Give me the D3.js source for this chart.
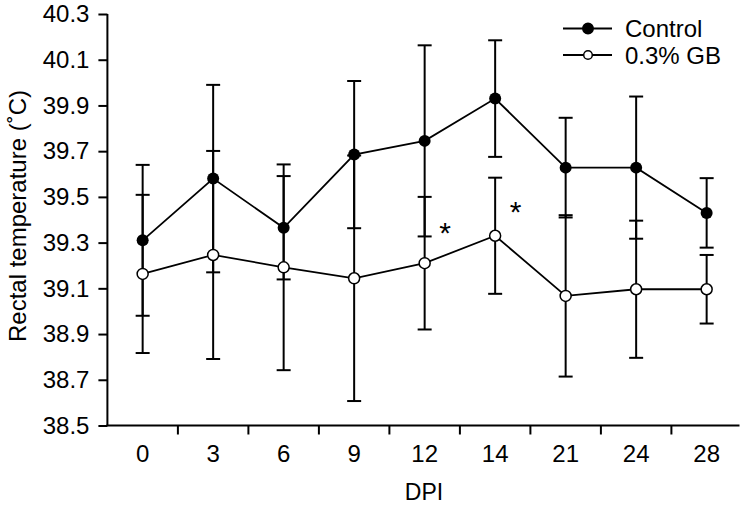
<!DOCTYPE html>
<html>
<head>
<meta charset="utf-8">
<script src="https://cdn.jsdelivr.net/npm/d3@7"></script>
<style>
  html, body { margin: 0; padding: 0; background: #fff; }
  svg { display: block; }
  text { font-family: "Liberation Sans", Arial, sans-serif; fill: #000; }
</style>
</head>
<body>
<svg id="chart" width="745" height="510"></svg>
<script>
const categories = ["0", "3", "6", "9", "12", "14", "21", "24", "28"];
const controlMean = [39.31, 39.58, 39.365, 39.685, 39.745, 39.93, 39.628, 39.628, 39.43];
const controlErr  = [0.33, 0.41, 0.226, 0.322, 0.418, 0.255, 0.218, 0.311, 0.152];
const gbMean = [39.163, 39.246, 39.192, 39.144, 39.21, 39.33, 39.067, 39.096, 39.096];
const gbErr  = [0.346, 0.455, 0.45, 0.537, 0.29, 0.254, 0.353, 0.3, 0.15];
const yTicks = [38.5, 38.7, 38.9, 39.1, 39.3, 39.5, 39.7, 39.9, 40.1, 40.3];
const seriesNames = ["Control", "0.3% GB"];
const asterisks = [{cat: "12", value: 39.373}, {cat: "14", value: 39.465}];

(function () {
const svg = d3.select("#chart");
const pLeft = 107.4, pRight = 741.9, pTop = 14, pBottom = 425.5;
const fs = "24px";

const x = d3.scaleBand().domain(categories).range([pLeft, pRight]).padding(0);
const y = d3.scaleLinear().domain([38.5, 40.3]).range([pBottom, pTop]);
const cx = c => x(c) + x.bandwidth() / 2;

// Y axis
const yAxis = d3.axisLeft(y).tickValues(yTicks).tickFormat(d3.format(".1f")).tickSize(9).tickPadding(9);
const gy = svg.append("g").attr("transform", `translate(${pLeft},0)`).call(yAxis);
gy.attr("font-family", null).attr("font-size", null);
gy.select(".domain").attr("d", `M0,${pTop}V${pBottom}`).attr("stroke-width", 2);
gy.selectAll(".tick line").attr("stroke-width", 2);
gy.selectAll(".tick text").style("font-size", fs);

// X axis
const gx = svg.append("g").attr("transform", `translate(0,${pBottom})`);
gx.append("line").attr("x1", pLeft - 1).attr("x2", 739.5).attr("y1", 0).attr("y2", 0)
  .attr("stroke", "#000").attr("stroke-width", 2);
gx.selectAll("line.tk").data(categories.slice(0, -1)).join("line").attr("class", "tk")
  .attr("x1", d => x(d) + x.bandwidth()).attr("x2", d => x(d) + x.bandwidth())
  .attr("y1", 0).attr("y2", 9).attr("stroke", "#000").attr("stroke-width", 2);
gx.selectAll("text.tl").data(categories).join("text").attr("class", "tl")
  .attr("x", d => cx(d)).attr("y", 36).attr("text-anchor", "middle")
  .style("font-size", fs).text(d => d);

// Axis titles
svg.append("text").attr("x", 424).attr("y", 500).attr("text-anchor", "middle")
  .style("font-size", "23px").text("DPI");
svg.append("text").attr("transform", "translate(25.5,216) rotate(-90)").attr("text-anchor", "middle")
  .style("font-size", "24px").text("Rectal temperature (˚C)");

// Error bars
function errorBars(means, errs, cls) {
  const g = svg.append("g").attr("class", cls).attr("stroke", "#000").attr("stroke-width", 2);
  categories.forEach((c, i) => {
    const hi = y(means[i] + errs[i]), lo = y(means[i] - errs[i]);
    g.append("line").attr("x1", cx(c)).attr("x2", cx(c)).attr("y1", hi).attr("y2", lo);
    g.append("line").attr("x1", cx(c) - 7).attr("x2", cx(c) + 7).attr("y1", hi).attr("y2", hi);
    g.append("line").attr("x1", cx(c) - 7).attr("x2", cx(c) + 7).attr("y1", lo).attr("y2", lo);
  });
}
errorBars(gbMean, gbErr, "eb-gb");
errorBars(controlMean, controlErr, "eb-ctrl");

// Lines
const line = d3.line().x((d, i) => cx(categories[i])).y(d => y(d));
svg.append("path").datum(gbMean).attr("d", line).attr("fill", "none").attr("stroke", "#000").attr("stroke-width", 1.8);
svg.append("path").datum(controlMean).attr("d", line).attr("fill", "none").attr("stroke", "#000").attr("stroke-width", 1.8);

// Markers
svg.selectAll("circle.gb").data(gbMean).join("circle").attr("class", "gb")
  .attr("cx", (d, i) => cx(categories[i])).attr("cy", d => y(d)).attr("r", 5.5)
  .attr("fill", "#fff").attr("stroke", "#000").attr("stroke-width", 1.5);
svg.selectAll("circle.ctrl").data(controlMean).join("circle").attr("class", "ctrl")
  .attr("cx", (d, i) => cx(categories[i])).attr("cy", d => y(d)).attr("r", 6)
  .attr("fill", "#000");

// Asterisks
svg.selectAll("text.ast").data(asterisks).join("text").attr("class", "ast")
  .attr("x", d => x(d.cat) + x.bandwidth() * 0.79).attr("y", d => y(d.value) + 17)
  .attr("text-anchor", "middle").style("font-size", "30px").text("*");

// Legend
const leg = svg.append("g");
seriesNames.forEach((name, i) => {
  const ly = 28.5 + i * 26.5;
  leg.append("line").attr("x1", 563).attr("x2", 612).attr("y1", ly).attr("y2", ly)
    .attr("stroke", "#000").attr("stroke-width", 1.8);
  leg.append("circle").attr("cx", 588).attr("cy", ly).attr("r", i === 0 ? 5.2 : 4.3)
    .attr("fill", i === 0 ? "#000" : "#fff").attr("stroke", "#000").attr("stroke-width", 1.5);
  leg.append("text").attr("x", 625).attr("y", ly + 8.5).style("font-size", fs).text(name);
});
})();
</script>
</body>
</html>
